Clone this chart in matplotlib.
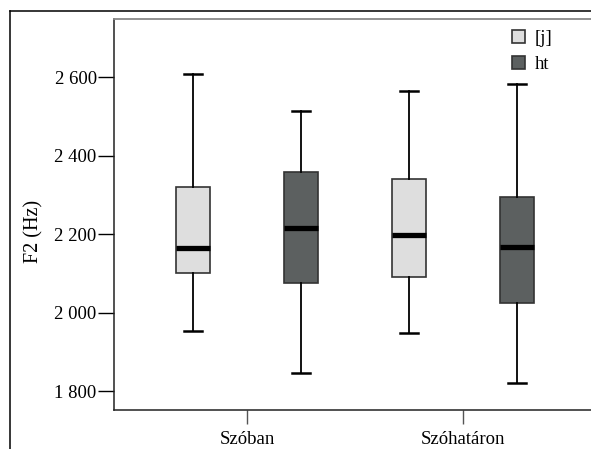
import matplotlib
matplotlib.use("Agg")
import matplotlib.pyplot as plt
from matplotlib.patches import Patch
from matplotlib.lines import Line2D

plt.rcParams["font.family"] = ["Liberation Serif", "DejaVu Serif"]

# positions on the x axis and the two series
categories = ["Szóban", "Szóhatáron"]
series = ["[j]", "ht"]
colors = ["#dedede", "#5c6060"]

# box statistics (Hz): [Szóban, Szóhatáron]
whislo = {"[j]": [1953, 1948], "ht": [1846, 1820]}
q1 = {"[j]": [2101, 2090], "ht": [2075, 2024]}
med = {"[j]": [2164, 2197], "ht": [2215, 2167]}
q3 = {"[j]": [2320, 2340], "ht": [2358, 2294]}
whishi = {"[j]": [2608, 2564], "ht": [2514, 2582]}

yticks = [1800, 2000, 2200, 2400, 2600]

W, H = 591, 449
fig = plt.figure(figsize=(W / 100, H / 100), dpi=100)

# outer frame (cropped) like the source picture
fig.add_artist(Line2D([10 / W, 10 / W], [0, 1 - 11 / H], transform=fig.transFigure,
                      color="black", lw=1.1))
fig.add_artist(Line2D([10 / W, 1], [1 - 11 / H, 1 - 11 / H], transform=fig.transFigure,
                      color="black", lw=1.1))

left, right, top, bottom = 114, 600, 19, 410
ax = fig.add_axes([left / W, (H - bottom) / H, (right - left) / W, (bottom - top) / H])

offsets = [-0.25, 0.25]
for s, name in enumerate(series):
    stats = []
    for i in range(len(categories)):
        stats.append(dict(whislo=whislo[name][i], q1=q1[name][i], med=med[name][i],
                          q3=q3[name][i], whishi=whishi[name][i], fliers=[]))
    ax.bxp(stats, positions=[i + offsets[s] for i in range(len(categories))],
           widths=0.162, patch_artist=True, showfliers=False,
           boxprops=dict(facecolor=colors[s], edgecolor="#333333", linewidth=1.2),
           medianprops=dict(color="black", linewidth=3.8, solid_capstyle="butt"),
           whiskerprops=dict(color="black", linewidth=1.3),
           capprops=dict(color="black", linewidth=1.8),
           capwidths=0.08, manage_ticks=False)

ax.set_xlim((left - 247) / 216, (right - 247) / 216)
ax.set_ylim(1752, 2748)

ax.set_yticks(yticks)
ax.set_yticklabels([f"{v:,}".replace(",", " ") for v in yticks])
ax.set_xticks(range(len(categories)))
ax.set_xticklabels(categories)
ax.tick_params(axis="y", length=11.5, width=1.0, pad=1, labelsize=13.5, color="black")
ax.tick_params(axis="x", length=10, width=1.0, pad=5, labelsize=13.5, color="#555555")
ax.set_ylabel("F2 (Hz)", fontsize=14.5, va="center")
ax.yaxis.set_label_coords((34 - left) / (right - left), (bottom - 231) / (bottom - top))

ax.spines["left"].set_color("#222222")
ax.spines["left"].set_linewidth(1.1)
ax.spines["top"].set_color("#888888")
ax.spines["top"].set_linewidth(1.3)
ax.spines["bottom"].set_color("#222222")
ax.spines["bottom"].set_linewidth(1.1)
ax.spines["right"].set_visible(False)

handles = [Patch(facecolor=colors[s], edgecolor="#333333", linewidth=1.2) for s in range(len(series))]
ax.legend(handles, series, loc="upper left", bbox_to_anchor=(512 / W, 1 - 30 / H),
          bbox_transform=fig.transFigure, frameon=False, fontsize=13.5,
          handlelength=0.7, handleheight=0.7, handletextpad=0.5, labelspacing=0.45,
          borderpad=0, borderaxespad=0)

fig.savefig("out.png", dpi=100)
